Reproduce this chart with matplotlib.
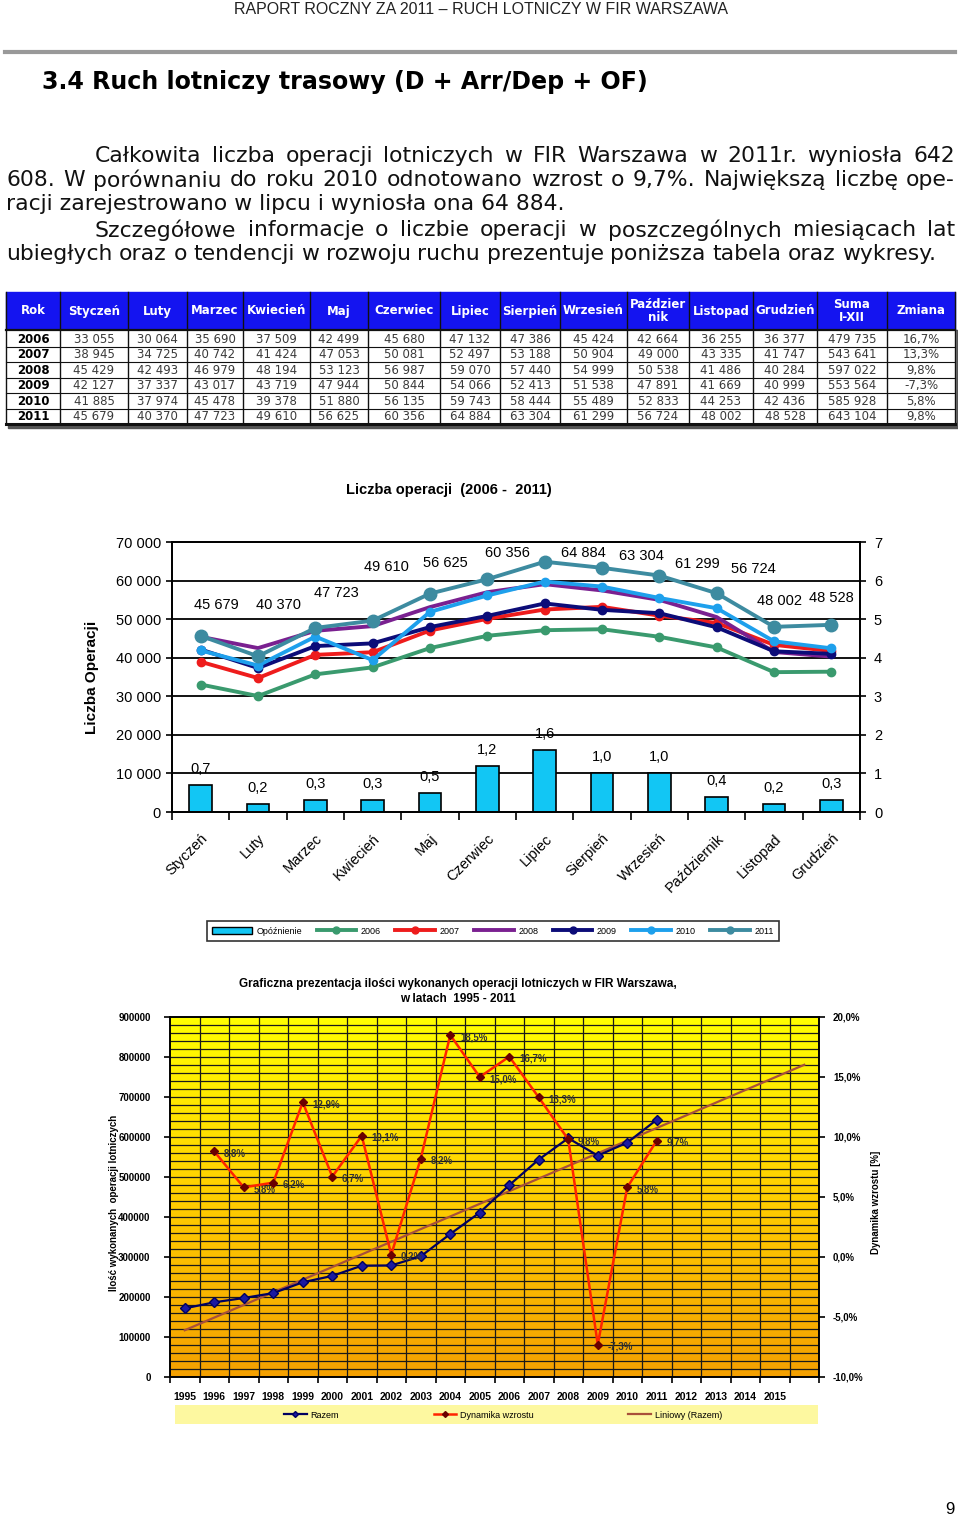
import numpy as np
import matplotlib
matplotlib.use('Agg')
import matplotlib.pyplot as plt
from matplotlib.patches import Rectangle, Patch
from matplotlib.lines import Line2D
from matplotlib.colors import LinearSegmentedColormap

# ---- data ----
months = ['Styczeń', 'Luty', 'Marzec', 'Kwiecień', 'Maj', 'Czerwiec', 'Lipiec',
          'Sierpień', 'Wrzesień', 'Październik', 'Listopad', 'Grudzień']
table_head = ['Rok', 'Styczeń', 'Luty', 'Marzec', 'Kwiecień', 'Maj', 'Czerwiec', 'Lipiec',
              'Sierpień', 'Wrzesień', 'Paździer\nnik', 'Listopad', 'Grudzień', 'Suma\nI-XII', 'Zmiana']
years = ['2006', '2007', '2008', '2009', '2010', '2011']
ops_2006 = [33055, 30064, 35690, 37509, 42499, 45680, 47132, 47386, 45424, 42664, 36255, 36377]
ops_2007 = [38945, 34725, 40742, 41424, 47053, 50081, 52497, 53188, 50904, 49000, 43335, 41747]
ops_2008 = [45429, 42493, 46979, 48194, 53123, 56987, 59070, 57440, 54999, 50538, 41486, 40284]
ops_2009 = [42127, 37337, 43017, 43719, 47944, 50844, 54066, 52413, 51538, 47891, 41669, 40999]
ops_2010 = [41885, 37974, 45478, 39378, 51880, 56135, 59743, 58444, 55489, 52833, 44253, 42436]
ops_2011 = [45679, 40370, 47723, 49610, 56625, 60356, 64884, 63304, 61299, 56724, 48002, 48528]
year_sums = [479735, 543641, 597022, 553564, 585928, 643104]
year_change = ['16,7%', '13,3%', '9,8%', '-7,3%', '5,8%', '9,8%']
delay = [0.7, 0.2, 0.3, 0.3, 0.5, 1.2, 1.6, 1.0, 1.0, 0.4, 0.2, 0.3]

yr_labels = [str(y) for y in range(1995, 2016)]
razem = [171600, 186700, 197500, 209800, 236800, 252700, 278200, 278800, 301700,
         357500, 411100, 479735, 543641, 597022, 553564, 585928, 643104]
dynamika = [8.8, 5.8, 6.2, 12.9, 6.7, 10.1, 0.2, 8.2, 18.5, 15.0, 16.7, 13.3, 9.8, -7.3, 5.8, 9.7]

series = [ops_2006, ops_2007, ops_2008, ops_2009, ops_2010, ops_2011]
colors = ['#3a9a6e', '#ee1c1c', '#7a2090', '#0c0c78', '#1ea0ec', '#3d8ba0']

W, H = 960, 1519
plt.rcParams['font.family'] = ['Liberation Sans', 'DejaVu Sans']
fig = plt.figure(figsize=(W / 100, H / 100), dpi=100)
fig.patch.set_facecolor('white')
renderer = fig.canvas.get_renderer()


def px_axes(x0, y0, x1, y1):
    return fig.add_axes([x0 / W, 1 - y1 / H, (x1 - x0) / W, (y1 - y0) / H])


def ftext(x, y, s, **kw):
    return fig.text(x / W, 1 - y / H, s, **kw)


def width(t):
    return t.get_window_extent(renderer).width


def fit_text(x0, x1, y, s, fs0=12, **kw):
    t = ftext(x0, y, s, fontsize=fs0, ha='left', va='center', **kw)
    t.set_fontsize(fs0 * (x1 - x0) / width(t))
    return t


def justify(x0, x1, y, s, fs, **kw):
    words = s.split(' ')
    ts = [ftext(0, y, w, fontsize=fs, ha='left', va='center', **kw) for w in words]
    ws = [width(t) for t in ts]
    gap = (x1 - x0 - sum(ws)) / (len(words) - 1)
    x = x0
    for t, w in zip(ts, ws):
        t.set_x(x / W)
        x += w + gap


def fmt(v):
    return f'{v:,}'.replace(',', ' ')


# ---- page header and text ----
ftext(481, 9, 'RAPORT ROCZNY ZA 2011 – RUCH LOTNICZY W FIR WARSZAWA', ha='center', va='center',
      fontsize=11.5, color='#222222')
fig.add_artist(Line2D([5 / W, 955 / W], [1 - 52 / H] * 2, color='#999999', lw=3))
fit_text(42, 650, 82, '3.4 Ruch lotniczy trasowy (D + Arr/Dep + OF)', fs0=15,
         family='DejaVu Sans', fontweight='bold', color='black')

last = ftext(6, 254, 'ubiegłych oraz o tendencji w rozwoju ruchu prezentuje poniższa tabela oraz wykresy.',
             fontsize=13, family='DejaVu Sans')
fs_par = 13 * 930 / width(last)
last.remove()
pk = dict(family='DejaVu Sans', color='#111111')
justify(95, 955, 156, 'Całkowita liczba operacji lotniczych w FIR Warszawa w 2011r. wyniosła 642', fs_par, **pk)
justify(6, 955, 180, '608. W porównaniu do roku 2010 odnotowano wzrost o 9,7%. Największą liczbę ope-', fs_par, **pk)
ftext(6, 204, 'racji zarejestrowano w lipcu i wyniosła ona 64 884.', fontsize=fs_par, va='center', **pk)
justify(95, 955, 230, 'Szczegółowe informacje o liczbie operacji w poszczególnych miesiącach lat', fs_par, **pk)
justify(6, 936, 254, 'ubiegłych oraz o tendencji w rozwoju ruchu prezentuje poniższa tabela oraz wykresy.', fs_par, **pk)

# ---- table ----
axt = px_axes(4, 290, 958, 430)
axt.set_xlim(4, 958)
axt.set_ylim(430, 290)
axt.axis('off')
col_edges = [6, 60, 128, 187, 243, 310, 368, 440, 500, 560, 627, 689, 753, 817, 887, 955]
top, head_bot, bot = 292, 330, 424
row_edges = np.linspace(head_bot + 1, bot, len(years) + 1)
axt.add_patch(Rectangle((8, head_bot), 950, bot - head_bot + 4, color='#555555', zorder=0))
axt.add_patch(Rectangle((6, top), 949, head_bot - top, color='#1414f0', zorder=1))
axt.add_patch(Rectangle((6, head_bot), 949, bot - head_bot, color='white', zorder=1))
for i, lab in enumerate(table_head):
    cx = (col_edges[i] + col_edges[i + 1]) / 2
    axt.text(cx, (top + head_bot) / 2, lab, ha='center', va='center', color='white',
             fontsize=8.5, fontweight='bold', family='DejaVu Sans', linespacing=1.0, zorder=3)
for x in col_edges:
    axt.plot([x, x], [top, bot], color='#111111', lw=1, zorder=2)
axt.plot([6, 955], [head_bot, head_bot], color='#111111', lw=1.6, zorder=2)
for y in row_edges[1:-1]:
    axt.plot([6, 955], [y, y], color='#111111', lw=0.8, zorder=2)
axt.plot([6, 955], [bot, bot], color='#111111', lw=2.2, zorder=2)
for r, yr in enumerate(years):
    cy = (row_edges[r] + row_edges[r + 1]) / 2 + 0.5
    cells = [yr] + [fmt(v) for v in series[r]] + [fmt(year_sums[r]), year_change[r]]
    for c, s in enumerate(cells):
        cx = (col_edges[c] + col_edges[c + 1]) / 2
        axt.text(cx, cy, s, ha='center', va='center', fontsize=8.5, family='DejaVu Sans',
                 color='black' if c == 0 else '#3a3a3a', fontweight='bold' if c == 0 else 'normal',
                 zorder=3)

# ---- chart 1: monthly operations ----
ftext(449, 490, 'Liczba operacji  (2006 -  2011)', ha='center', va='center', fontsize=10.5, fontweight='bold')
ftext(92, 677, 'Liczba Operacji', ha='center', va='center', rotation=90, fontsize=11, fontweight='bold')

ax1 = px_axes(172, 542, 860, 812)
ax2 = ax1.twinx()
x = np.arange(len(months))
bar_color = '#12c6f4'
ax1.bar(x, delay, width=0.4, color=bar_color, edgecolor='black', lw=1.2, zorder=3)
for v in range(1, 7):
    ax1.axhline(v, color='black', lw=1.3, zorder=1)
for i, d in enumerate(delay):
    ax1.annotate(f'{d:.1f}'.replace('.', ','), (i, d), xytext=(0, 11.5), textcoords='offset points',
                 ha='center', va='center', fontsize=10.5, zorder=4)
ax1.set_xlim(-0.5, 11.5)
ax1.set_ylim(0, 7)
ax1.yaxis.tick_right()
ax1.set_yticks(range(8))
ax1.tick_params(axis='y', labelsize=10.5, length=4, width=1.2, pad=6)
ax1.set_xticks(np.arange(-0.5, 12, 1))
ax1.set_xticklabels([])
ax1.tick_params(axis='x', which='major', length=6, width=1.2)
ax1.set_xticks(x, minor=True)
ax1.set_xticklabels(months, minor=True, rotation=45, ha='right', rotation_mode='anchor', fontsize=10.5)
ax1.tick_params(axis='x', which='minor', length=0, pad=14)
for sp in ax1.spines.values():
    sp.set_linewidth(1.3)

ax2.yaxis.tick_left()
ax2.set_ylim(0, 70000)
ax2.set_yticks(range(0, 70001, 10000))
ax2.set_yticklabels([fmt(v) for v in range(0, 70001, 10000)])
ax2.tick_params(axis='y', labelsize=10.5, length=4, width=1.2, pad=4)
for yr, vals, c in zip(years, series, colors):
    mk = None if yr == '2008' else 'o'
    ms = 9 if yr == '2011' else 6
    ax2.plot(x, vals, color=c, lw=2.8, marker=mk, ms=ms, zorder=3)
lab_dx = [16, 20, 21, 14, 15, 20, 39, 39, 38, 37, 6, 0]
lab_dy = [31, 51, 35, 54, 31, 26, 9, 12, 12, 24, 26, 27]
for i, v in enumerate(ops_2011):
    ax2.annotate(fmt(v), (i, v), xytext=(lab_dx[i] * 0.72, lab_dy[i] * 0.72), textcoords='offset points',
                 ha='center', va='center', fontsize=10.5)
for sp in ax2.spines.values():
    sp.set_linewidth(1.3)

handles = [Patch(facecolor=bar_color, edgecolor='black')]
for yr, c in zip(years, colors):
    handles.append(Line2D([], [], color=c, lw=2.8, marker=None if yr == '2008' else 'o', ms=5))
leg = fig.legend(handles, ['Opóźnienie'] + years, loc='center', bbox_to_anchor=(493 / W, 1 - 931 / H),
                 ncol=7, fontsize=6.5, frameon=True, fancybox=False, edgecolor='black',
                 handlelength=4.4, columnspacing=1.6, handletextpad=0.5, borderpad=0.6)
leg.get_frame().set_linewidth(1.2)

# ---- chart 2: yearly operations ----
ftext(458, 984, 'Graficzna prezentacja ilości wykonanych operacji lotniczych w FIR Warszawa,',
      ha='center', va='center', fontsize=8.5, fontweight='bold')
ftext(458, 999, 'w latach  1995 - 2011', ha='center', va='center', fontsize=8.5, fontweight='bold')
ftext(114, 1203, 'Ilość wykonanych  operacji lotniczych', ha='center', va='center', rotation=90,
      fontsize=7, fontweight='bold')
ftext(876, 1202, 'Dynamika wzrostu [%]', ha='center', va='center', rotation=90, fontsize=7, fontweight='bold')

axb = px_axes(170, 1017, 819, 1377)
cmap = LinearSegmentedColormap.from_list('yo', ['#f4a000', '#ffce00', '#ffff00'])
grad = np.linspace(1, 0, 256).reshape(-1, 1)
axb.imshow(grad, extent=[-0.5, 21.5, 0, 900000], aspect='auto', cmap=cmap, zorder=0)
axb.set_xlim(-0.5, 21.5)
axb.set_ylim(0, 900000)
for v in range(20000, 900000, 20000):
    axb.axhline(v, color='#1a1a1a', lw=0.9, zorder=1)
for k in range(1, 22):
    axb.axvline(k - 0.5, color='#1a1a1a', lw=0.9, zorder=1)
idx = np.arange(len(razem))
coef = np.polyfit(idx, razem, 1)
xx = np.arange(22)
axb.plot(xx, np.polyval(coef, xx), color='#a8503a', lw=1.6, zorder=3)
axb.plot(idx, razem, color='#000060', lw=1.6, marker='D', ms=5, mfc='#1a1aa0', mec='#000060', zorder=4)
axb.set_yticks(range(0, 900001, 100000))
axb.set_yticklabels([str(v) for v in range(0, 900001, 100000)], fontsize=7, fontweight='bold')
axb.tick_params(axis='y', length=4, width=1.2, pad=10)
axb.set_xticks(np.arange(-0.5, 22, 1))
axb.set_xticklabels([])
axb.tick_params(axis='x', which='major', length=4, width=1.2)
axb.set_xticks(np.arange(len(yr_labels)), minor=True)
axb.set_xticklabels(yr_labels, minor=True, fontsize=7.5, fontweight='bold')
axb.tick_params(axis='x', which='minor', length=0, pad=11)
for sp in axb.spines.values():
    sp.set_linewidth(1.2)

axr = axb.twinx()
axr.set_ylim(-10, 20)
axr.set_yticks(range(-10, 21, 5))
axr.set_yticklabels([f'{v:.1f}%'.replace('.', ',') for v in range(-10, 21, 5)], fontsize=7, fontweight='bold')
axr.tick_params(axis='y', length=4, width=1.2, pad=6)
didx = np.arange(1, len(dynamika) + 1)
axr.plot(didx, dynamika, color='#ff2400', lw=1.8, marker='D', ms=4, mfc='#6a0000', mec='#6a0000', zorder=5)
for i, v in zip(didx, dynamika):
    axr.annotate(f'{v:.1f}%'.replace('.', ','), (i, v), xytext=(7, -1.5), textcoords='offset points',
                 ha='left', va='center', fontsize=7, fontweight='bold', color='#333333')
for sp in axr.spines.values():
    sp.set_linewidth(1.2)

fig.add_artist(Rectangle((175 / W, 1 - 1424 / H), 643 / W, 19 / H, facecolor='#fdf8a0',
                         edgecolor='none', transform=fig.transFigure, zorder=0))
h2 = [Line2D([], [], color='#000060', lw=1.6, marker='D', ms=3, mfc='#1a1aa0'),
      Line2D([], [], color='#ff2400', lw=1.8, marker='D', ms=3, mfc='#6a0000', mec='#6a0000'),
      Line2D([], [], color='#a8503a', lw=1.6)]
fig.legend(h2, ['Razem', 'Dynamika wzrostu', 'Liniowy (Razem)'], loc='center',
           bbox_to_anchor=(503 / W, 1 - 1415 / H), ncol=3, fontsize=6.5, frameon=False,
           handlelength=2.5, handletextpad=0.4, columnspacing=10.5)

ftext(950, 1510, '9', ha='center', va='center', fontsize=12)

fig.savefig('out.png', dpi=100)
